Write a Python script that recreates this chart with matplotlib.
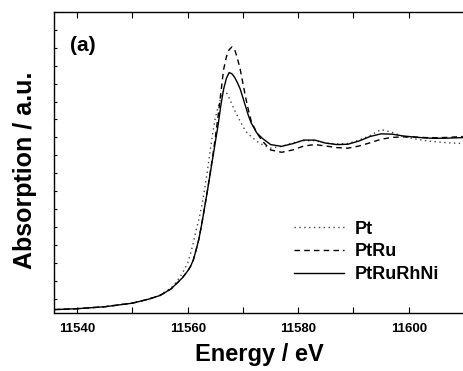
import matplotlib
matplotlib.use("Agg")
import matplotlib.pyplot as plt
from matplotlib.ticker import MultipleLocator

plt.rcParams['font.family'] = ['Liberation Sans', 'DejaVu Sans']
plt.rcParams['font.weight'] = 'bold'

# energy grid (eV)
energy = [11535.8, 11540, 11545, 11550, 11553, 11555, 11557, 11558, 11559,
          11560, 11560.5, 11561, 11561.5, 11562, 11562.5, 11563, 11563.5,
          11564, 11564.5, 11565, 11565.5, 11566, 11566.5, 11567, 11567.5,
          11568, 11568.5, 11569, 11569.5, 11570, 11570.5, 11571, 11571.5,
          11572.5, 11573.5, 11575, 11577, 11579, 11581, 11583, 11585, 11587,
          11589, 11591, 11593, 11595, 11597, 11599, 11601, 11603, 11605,
          11607, 11609.8]

pt = [-0.061, -0.056, -0.044, -0.024, -0.001, 0.020, 0.060, 0.095, 0.140,
      0.200, 0.250, 0.310, 0.380, 0.440, 0.510, 0.600, 0.700,
      0.810, 0.920, 1.010, 1.070, 1.120, 1.160, 1.150, 1.120,
      1.085, 1.050, 1.020, 0.990, 0.960, 0.935, 0.918, 0.905,
      0.878, 0.860, 0.840, 0.850, 0.870, 0.882, 0.882, 0.868, 0.864,
      0.866, 0.885, 0.910, 0.944, 0.928, 0.905, 0.893, 0.882, 0.875,
      0.870, 0.866]

ptru = [-0.061, -0.056, -0.045, -0.025, -0.002, 0.018, 0.055, 0.085, 0.115,
        0.155, 0.180, 0.215, 0.270, 0.330, 0.410, 0.500, 0.590,
        0.690, 0.790, 0.900, 1.020, 1.150, 1.280, 1.350, 1.390,
        1.405, 1.390, 1.340, 1.280, 1.200, 1.120, 1.050, 0.990,
        0.925, 0.880, 0.830, 0.817, 0.830, 0.852, 0.860, 0.852, 0.843,
        0.840, 0.852, 0.870, 0.890, 0.900, 0.903, 0.902, 0.899, 0.898,
        0.900, 0.905]

ptrurhni = [-0.061, -0.056, -0.045, -0.025, -0.002, 0.018, 0.055, 0.085, 0.115,
            0.155, 0.180, 0.215, 0.270, 0.330, 0.410, 0.500, 0.590,
            0.685, 0.780, 0.875, 0.970, 1.080, 1.170, 1.230, 1.262,
            1.255, 1.235, 1.205, 1.170, 1.120, 1.070, 1.020, 0.980,
            0.925, 0.895, 0.860, 0.850, 0.865, 0.885, 0.885, 0.868, 0.860,
            0.862, 0.880, 0.905, 0.920, 0.918, 0.908, 0.902, 0.897, 0.895,
            0.896, 0.899]

labels = ['Pt', 'PtRu', 'PtRuRhNi']

fig = plt.figure(figsize=(4.64, 3.71), dpi=100)
ax = fig.add_axes([0.1164, 0.1563, 0.8836, 0.8114])

ax.plot(energy, pt, color='#444444', lw=1.0, linestyle=(0, (1, 2.5)), label=labels[0])
ax.plot(energy, ptru, color='black', lw=1.0, linestyle=(0, (4, 3)), label=labels[1])
ax.plot(energy, ptrurhni, color='black', lw=1.0, linestyle='-', label=labels[2])

ax.set_xlim(11535.8, 11610)
ax.set_ylim(-0.08, 1.6)

ax.xaxis.set_major_locator(MultipleLocator(20))
ax.xaxis.set_minor_locator(MultipleLocator(10))
ax.yaxis.set_major_locator(MultipleLocator(0.1))
ax.set_yticklabels([])
ax.tick_params(axis='x', which='both', direction='in', top=True, length=4,
               width=0.8, labelsize=9.5, pad=7)
ax.tick_params(axis='y', which='both', direction='in', length=2.5, width=0.8)
for lab in ax.get_xticklabels():
    lab.set_fontweight('bold')
for s in ax.spines.values():
    s.set_linewidth(1.0)

ax.set_xlabel('Energy / eV', fontsize=17, fontweight='bold', labelpad=6)
ax.set_ylabel('Absorption / a.u.', fontsize=18, fontweight='bold')
ax.yaxis.set_label_coords(-0.042, 0.475)

ax.text(0.038, 0.888, '(a)', transform=ax.transAxes, fontsize=15,
        fontweight='bold', va='center', ha='left')

ax.legend(loc='center left', bbox_to_anchor=(0.585, 0.203), frameon=False,
          handlelength=2.8, handletextpad=0.55, labelspacing=0.32,
          borderpad=0, borderaxespad=0, prop={'weight': 'bold', 'size': 13})

fig.savefig('out.png', dpi=100)
